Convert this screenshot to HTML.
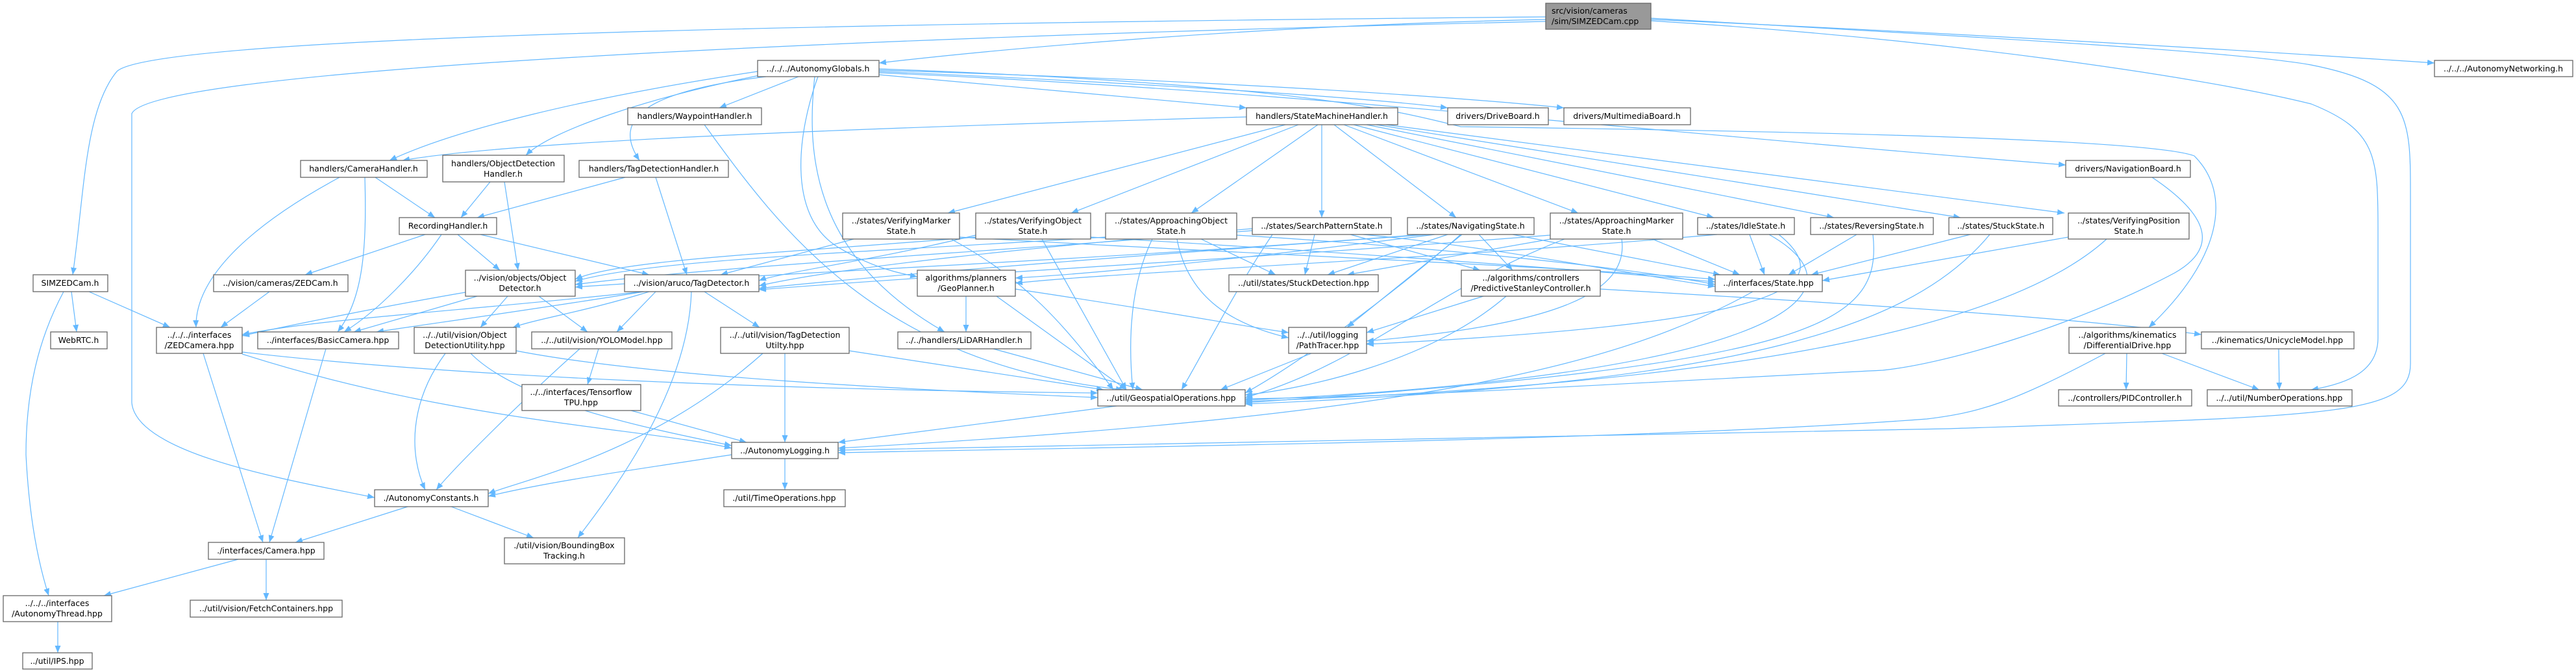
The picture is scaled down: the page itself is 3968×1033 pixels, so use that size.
<!DOCTYPE html>
<html><head><meta charset="utf-8"><style>
html,body{margin:0;padding:0;background:#fff;}
svg{display:block;}
text{font-family:"DejaVu Sans","Liberation Sans",sans-serif;font-size:12.5px;fill:#000;}
.n{fill:#fff;stroke:#666;stroke-width:1.3;}
.e{fill:none;stroke:#63b8ff;stroke-width:1.2;}
</style></head><body>
<svg width="3968" height="1033" viewBox="0 0 3968 1033" xmlns="http://www.w3.org/2000/svg">
<defs><marker id="a" markerUnits="userSpaceOnUse" markerWidth="12" markerHeight="9" refX="11" refY="4.5" orient="auto"><path d="M0,0 L11,4.5 L0,9 z" fill="#63b8ff"/></marker></defs>
<g class="e" marker-end="url(#a)">
<path d="M2381 30 C1900 40,1500 80,1354 97"/>
<path d="M2381 26 C800 40,220 70,180 110 C130 170,130 300,112 423"/>
<path d="M2381 33 C1200 60,230 110,203 175 L203 620 C210 700,450 740,577 766"/>
<path d="M2543 30 C3000 50,3500 80,3750 97"/>
<path d="M2543 28 C3100 60,3450 80,3560 100 C3713 130,3713 180,3713 300 L3713 560 C3713 640,3600 640,3000 660 C2200 680,1600 690,1291 693"/>
<path d="M2543 32 C3000 60,3400 120,3560 160 C3660 200,3663 240,3663 350 L3663 520 C3663 570,3620 590,3560 600"/>
<path d="M1167 110 C900 150,700 200,600 247"/>
<path d="M1920 180 C1400 195,800 215,620 247"/>
<path d="M1175 115 C1000 150,850 200,810 239"/>
<path d="M1180 118 C1000 140,940 180,985 247"/>
<path d="M1230 118 L1108 166"/>
<path d="M1354 115 L1920 166"/>
<path d="M1354 110 C1800 130,2100 150,2230 166"/>
<path d="M1354 108 C1900 125,2250 150,2409 166"/>
<path d="M1354 112 C2000 140,2500 200,3182 254"/>
<path d="M1260 118 C1230 200,1210 330,1290 380 C1340 410,1380 420,1413 426"/>
<path d="M1255 118 C1240 250,1260 400,1455 511"/>
<path d="M1354 106 C2000 130,2150 170,2250 195 C2600 200,3300 210,3380 240 C3440 300,3420 400,3310 504"/>
<path d="M1980 192 L1460 328"/>
<path d="M2000 192 L1650 328"/>
<path d="M2030 192 L1835 328"/>
<path d="M2036 192 L2036 335"/>
<path d="M2055 192 L2243 335"/>
<path d="M2070 192 L2431 328"/>
<path d="M2085 192 L2640 335"/>
<path d="M2105 192 L2825 335"/>
<path d="M2120 192 L3020 335"/>
<path d="M2135 192 L3180 328"/>
<path d="M1085 192 C1200 350,1350 560,1730 600"/>
<path d="M578 273 L670 335"/>
<path d="M523 273 C380 350,300 430,302 504"/>
<path d="M562 273 C565 380,560 460,520 511"/>
<path d="M755 280 L710 335"/>
<path d="M777 280 L798 416"/>
<path d="M963 273 L735 335"/>
<path d="M1010 273 L1058 423"/>
<path d="M655 361 L470 423"/>
<path d="M680 361 C640 420,580 480,530 511"/>
<path d="M705 361 L770 416"/>
<path d="M740 361 L1000 423"/>
<path d="M137 449 L262 504"/>
<path d="M110 449 L118 511"/>
<path d="M98 449 C60 520,40 600,40 700 C45 800,60 870,75 917"/>
<path d="M415 449 L340 504"/>
<path d="M717 450 C600 470,450 500,373 517"/>
<path d="M735 456 L545 511"/>
<path d="M782 456 L740 504"/>
<path d="M830 456 L905 511"/>
<path d="M990 449 C700 480,500 490,373 515"/>
<path d="M992 449 C800 480,650 500,580 511"/>
<path d="M1000 449 C900 480,830 490,790 504"/>
<path d="M1010 449 L950 511"/>
<path d="M1085 449 L1170 504"/>
<path d="M1065 449 C1060 600,950 750,890 828"/>
<path d="M1315 368 L1110 423"/>
<path d="M1478 365 C1900 390,2400 410,2642 430"/>
<path d="M1465 368 C1580 430,1640 500,1715 600"/>
<path d="M1503 362 C1350 400,1200 420,1169 432"/>
<path d="M1503 365 C1200 390,950 400,886 430"/>
<path d="M1605 368 L1735 600"/>
<path d="M1680 365 C2100 390,2500 420,2642 434"/>
<path d="M1703 365 C1300 390,1000 400,886 433"/>
<path d="M1775 368 C1735 450,1740 550,1745 600"/>
<path d="M1850 368 L1965 423"/>
<path d="M1813 368 C1830 460,1900 500,1985 520"/>
<path d="M1905 362 C2200 380,2500 410,2642 438"/>
<path d="M1929 352 C1600 380,1300 410,1169 440"/>
<path d="M1929 355 C1500 390,1100 410,886 438"/>
<path d="M2025 361 L2010 423"/>
<path d="M1960 361 C1900 450,1850 550,1820 600"/>
<path d="M2080 361 L2280 416"/>
<path d="M2100 361 C2300 380,2500 420,2642 441"/>
<path d="M2200 361 C1800 390,1400 420,1169 444"/>
<path d="M2190 361 C1700 400,1200 420,886 442"/>
<path d="M2230 361 L2045 423"/>
<path d="M2278 361 L2330 416"/>
<path d="M2252 361 L2075 504"/>
<path d="M2250 361 C2150 450,2000 560,1918 605"/>
<path d="M2330 361 L2650 423"/>
<path d="M2210 361 C1900 400,1700 420,1564 428"/>
<path d="M2388 362 C1900 400,1500 420,1169 446"/>
<path d="M2400 366 L2075 423"/>
<path d="M2545 368 L2680 423"/>
<path d="M2410 368 C2200 450,2100 560,1918 612"/>
<path d="M2498 368 C2510 450,2400 500,2105 525"/>
<path d="M2645 361 C2200 400,1700 420,1564 436"/>
<path d="M2695 361 L2718 423"/>
<path d="M2725 361 C2900 460,2700 580,1918 616"/>
<path d="M2740 361 C2850 450,2700 500,2105 530"/>
<path d="M2860 361 L2755 423"/>
<path d="M2885 361 C2900 500,2800 560,1918 620"/>
<path d="M3035 361 L2790 423"/>
<path d="M3065 361 C2950 500,2700 590,1918 622"/>
<path d="M3186 365 L2807 432"/>
<path d="M3245 368 C3100 500,2700 590,1918 618"/>
<path d="M1488 456 L1488 511"/>
<path d="M1564 445 C1800 480,1900 500,1985 512"/>
<path d="M1535 456 L1735 600"/>
<path d="M2285 456 L2105 512"/>
<path d="M2320 456 C2200 560,2000 600,1918 608"/>
<path d="M2465 445 C2900 470,3200 490,3391 515"/>
<path d="M2700 449 C2500 560,2200 640,1291 690"/>
<path d="M2020 544 L1880 600"/>
<path d="M1209 544 L1209 681"/>
<path d="M1308 540 L1700 600"/>
<path d="M1175 544 C1000 700,800 740,752 760"/>
<path d="M1530 537 L1760 600"/>
<path d="M313 544 L405 835"/>
<path d="M373 542 C700 580,1200 600,1691 605"/>
<path d="M373 545 C700 650,1000 660,1127 690"/>
<path d="M502 537 L415 835"/>
<path d="M686 544 C630 620,630 700,655 754"/>
<path d="M725 544 C800 620,1000 660,1127 686"/>
<path d="M795 540 C1000 580,1400 600,1691 612"/>
<path d="M922 537 L905 592"/>
<path d="M893 537 C800 620,700 720,672 754"/>
<path d="M972 632 L1150 681"/>
<path d="M1720 625 L1291 681"/>
<path d="M3276 544 L3275 600"/>
<path d="M3330 544 L3480 600"/>
<path d="M3243 544 C3100 620,3050 635,2968 645 C2500 680,1600 690,1291 697"/>
<path d="M3510 537 L3511 600"/>
<path d="M3315 273 C3400 330,3420 380,3350 420 C3200 500,3000 560,2900 570 C2500 590,2200 610,1918 614"/>
<path d="M1127 700 C1000 720,850 740,752 764"/>
<path d="M1209 706 L1209 754"/>
<path d="M628 780 L455 835"/>
<path d="M695 780 L822 828"/>
<path d="M367 861 L160 917"/>
<path d="M410 861 L410 924"/>
<path d="M89 957 L89 1005"/>
</g>
<g>
<rect x="2381" y="5" width="162" height="40" style="fill:#999;stroke:#666;stroke-width:1.3"/>
<text x="2390" y="21">src/vision/cameras</text><text x="2390" y="37">/sim/SIMZEDCam.cpp</text>
</g>
<g text-anchor="middle">
<rect class="n" x="1167" y="93" width="187" height="25"/><text x="1260" y="110">../../../AutonomyGlobals.h</text>
<rect class="n" x="3750" y="93" width="213" height="25"/><text x="3856" y="110">../../../AutonomyNetworking.h</text>
<rect class="n" x="967" y="166" width="206" height="26"/><text x="1070" y="183">handlers/WaypointHandler.h</text>
<rect class="n" x="1920" y="166" width="233" height="26"/><text x="2036" y="183">handlers/StateMachineHandler.h</text>
<rect class="n" x="2230" y="166" width="155" height="26"/><text x="2307" y="183">drivers/DriveBoard.h</text>
<rect class="n" x="2409" y="166" width="195" height="26"/><text x="2506" y="183">drivers/MultimediaBoard.h</text>
<rect class="n" x="463" y="247" width="195" height="26"/><text x="560" y="264">handlers/CameraHandler.h</text>
<rect class="n" x="682" y="239" width="187" height="41"/><text x="775" y="256">handlers/ObjectDetection</text><text x="775" y="272">Handler.h</text>
<rect class="n" x="892" y="247" width="230" height="26"/><text x="1007" y="264">handlers/TagDetectionHandler.h</text>
<rect class="n" x="3182" y="247" width="192" height="26"/><text x="3278" y="264">drivers/NavigationBoard.h</text>
<rect class="n" x="615" y="335" width="150" height="26"/><text x="690" y="352">RecordingHandler.h</text>
<rect class="n" x="1298" y="328" width="180" height="40"/><text x="1388" y="344">../states/VerifyingMarker</text><text x="1388" y="360">State.h</text>
<rect class="n" x="1503" y="328" width="177" height="40"/><text x="1591" y="344">../states/VerifyingObject</text><text x="1591" y="360">State.h</text>
<rect class="n" x="1703" y="328" width="202" height="40"/><text x="1804" y="344">../states/ApproachingObject</text><text x="1804" y="360">State.h</text>
<rect class="n" x="1929" y="335" width="214" height="26"/><text x="2036" y="352">../states/SearchPatternState.h</text>
<rect class="n" x="2168" y="335" width="195" height="26"/><text x="2265" y="352">../states/NavigatingState.h</text>
<rect class="n" x="2388" y="328" width="204" height="40"/><text x="2490" y="344">../states/ApproachingMarker</text><text x="2490" y="360">State.h</text>
<rect class="n" x="2615" y="335" width="149" height="26"/><text x="2689" y="352">../states/IdleState.h</text>
<rect class="n" x="2789" y="335" width="189" height="26"/><text x="2883" y="352">../states/ReversingState.h</text>
<rect class="n" x="3002" y="335" width="160" height="26"/><text x="3082" y="352">../states/StuckState.h</text>
<rect class="n" x="3186" y="328" width="186" height="40"/><text x="3279" y="344">../states/VerifyingPosition</text><text x="3279" y="360">State.h</text>
<rect class="n" x="51" y="423" width="115" height="26"/><text x="108" y="440">SIMZEDCam.h</text>
<rect class="n" x="329" y="423" width="207" height="26"/><text x="432" y="440">../vision/cameras/ZEDCam.h</text>
<rect class="n" x="717" y="416" width="169" height="40"/><text x="801" y="432">../vision/objects/Object</text><text x="801" y="448">Detector.h</text>
<rect class="n" x="962" y="423" width="207" height="26"/><text x="1065" y="440">../vision/aruco/TagDetector.h</text>
<rect class="n" x="1413" y="416" width="151" height="40"/><text x="1488" y="432">algorithms/planners</text><text x="1488" y="448">/GeoPlanner.h</text>
<rect class="n" x="1893" y="423" width="230" height="26"/><text x="2008" y="440">../util/states/StuckDetection.hpp</text>
<rect class="n" x="2251" y="416" width="214" height="40"/><text x="2358" y="432">../algorithms/controllers</text><text x="2358" y="448">/PredictiveStanleyController.h</text>
<rect class="n" x="2642" y="423" width="165" height="26"/><text x="2724" y="440">../interfaces/State.hpp</text>
<rect class="n" x="78" y="511" width="87" height="26"/><text x="121" y="528">WebRTC.h</text>
<rect class="n" x="241" y="504" width="132" height="40"/><text x="307" y="520">../../../interfaces</text><text x="307" y="536">/ZEDCamera.hpp</text>
<rect class="n" x="397" y="511" width="217" height="26"/><text x="505" y="528">../interfaces/BasicCamera.hpp</text>
<rect class="n" x="638" y="504" width="157" height="40"/><text x="716" y="520">../../util/vision/Object</text><text x="716" y="536">DetectionUtility.hpp</text>
<rect class="n" x="819" y="511" width="216" height="26"/><text x="927" y="528">../../util/vision/YOLOModel.hpp</text>
<rect class="n" x="1110" y="504" width="198" height="40"/><text x="1209" y="520">../../util/vision/TagDetection</text><text x="1209" y="536">Utilty.hpp</text>
<rect class="n" x="1383" y="511" width="205" height="26"/><text x="1485" y="528">../../handlers/LiDARHandler.h</text>
<rect class="n" x="1985" y="504" width="120" height="40"/><text x="2045" y="520">../../util/logging</text><text x="2045" y="536">/PathTracer.hpp</text>
<rect class="n" x="3187" y="504" width="180" height="40"/><text x="3277" y="520">../algorithms/kinematics</text><text x="3277" y="536">/DifferentialDrive.hpp</text>
<rect class="n" x="3391" y="511" width="235" height="26"/><text x="3508" y="528">../kinematics/UnicycleModel.hpp</text>
<rect class="n" x="804" y="592" width="183" height="40"/><text x="895" y="608">../../interfaces/Tensorflow</text><text x="895" y="624">TPU.hpp</text>
<rect class="n" x="1691" y="600" width="227" height="25"/><text x="1804" y="617">../util/GeospatialOperations.hpp</text>
<rect class="n" x="3171" y="600" width="205" height="25"/><text x="3273" y="617">../controllers/PIDController.h</text>
<rect class="n" x="3400" y="600" width="223" height="25"/><text x="3511" y="617">../../util/NumberOperations.hpp</text>
<rect class="n" x="1127" y="681" width="164" height="25"/><text x="1209" y="698">../AutonomyLogging.h</text>
<rect class="n" x="577" y="754" width="175" height="26"/><text x="664" y="771">./AutonomyConstants.h</text>
<rect class="n" x="1115" y="754" width="187" height="26"/><text x="1208" y="771">./util/TimeOperations.hpp</text>
<rect class="n" x="321" y="835" width="178" height="26"/><text x="410" y="852">./interfaces/Camera.hpp</text>
<rect class="n" x="777" y="828" width="185" height="40"/><text x="869" y="844">./util/vision/BoundingBox</text><text x="869" y="860">Tracking.h</text>
<rect class="n" x="5" y="917" width="167" height="40"/><text x="88" y="933">../../../interfaces</text><text x="88" y="949">/AutonomyThread.hpp</text>
<rect class="n" x="293" y="924" width="234" height="26"/><text x="410" y="941">../util/vision/FetchContainers.hpp</text>
<rect class="n" x="35" y="1005" width="107" height="25"/><text x="88" y="1022">../util/IPS.hpp</text>
</g>
</svg>
</body></html>
